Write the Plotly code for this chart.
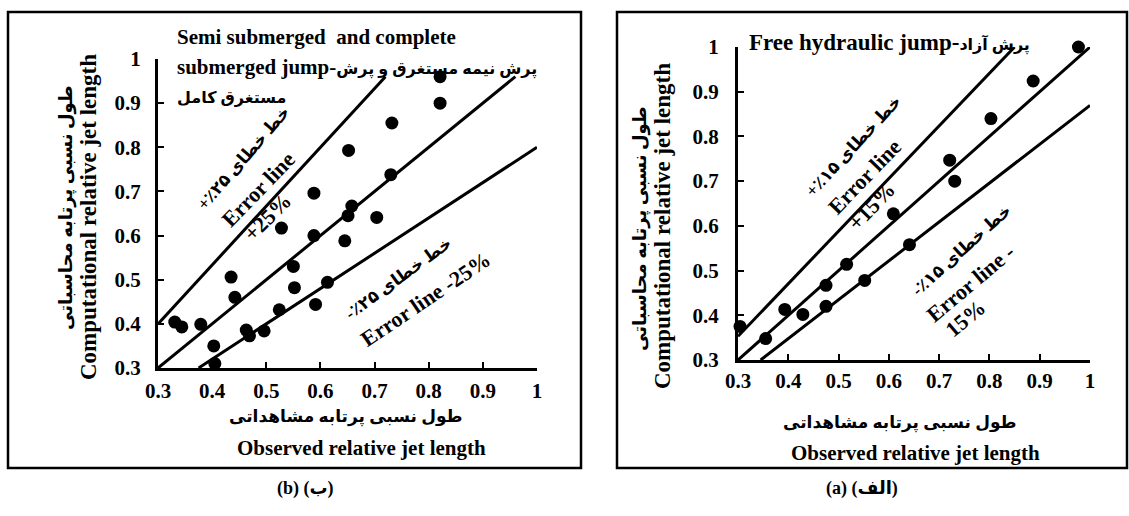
import plotly.graph_objects as go

W, H = 1129, 516

# ---------------- data ----------------
# (b) semi submerged and complete submerged jump
sub_obs = [0.331, 0.344, 0.379, 0.403, 0.405, 0.435, 0.442, 0.463, 0.469, 0.496,
           0.524, 0.528, 0.550, 0.552, 0.588, 0.588, 0.591, 0.613, 0.645, 0.651,
           0.652, 0.658, 0.704, 0.730, 0.732, 0.821, 0.821]
sub_calc = [0.404, 0.393, 0.399, 0.350, 0.310, 0.506, 0.460, 0.386, 0.373, 0.384,
            0.432, 0.617, 0.530, 0.482, 0.600, 0.696, 0.444, 0.494, 0.588, 0.645,
            0.793, 0.667, 0.641, 0.738, 0.855, 0.960, 0.900]

# (a) free hydraulic jump
free_obs = [0.304, 0.355, 0.393, 0.429, 0.475, 0.475, 0.516, 0.552, 0.609, 0.641,
            0.731, 0.721, 0.803, 0.887, 0.977]
free_calc = [0.375, 0.348, 0.413, 0.402, 0.467, 0.420, 0.514, 0.478, 0.627, 0.558,
             0.700, 0.747, 0.840, 0.924, 1.000]

# error lines: ratio (calc = obs * ratio) and x extent
sub_ratios = [1 / 0.75, 1.0, 1 / 1.25]
sub_x_ext = [[0.30, 0.72], [0.30, 0.96], [0.375, 1.0]]
free_ratios = [1 / 0.85, 1.0, 1 / 1.15]
free_x_ext = [[0.30, 0.85], [0.30, 1.0], [0.345, 1.0]]

tick_vals = [0.3, 0.4, 0.5, 0.6, 0.7, 0.8, 0.9, 1.0]
tick_text = ["0.3", "0.4", "0.5", "0.6", "0.7", "0.8", "0.9", "1"]

FONT = "Liberation Serif, Times New Roman, DejaVu Sans, serif"
RLM = "\u200f"


def px(x):
    return x / W


def py(y):
    return 1 - y / H


fig = go.Figure()

# error lines
for r, ext in zip(sub_ratios, sub_x_ext):
    fig.add_trace(go.Scatter(x=ext, y=[v * r for v in ext], mode="lines",
                             line=dict(color="black", width=3),
                             xaxis="x", yaxis="y", showlegend=False, hoverinfo="skip"))
for r, ext in zip(free_ratios, free_x_ext):
    fig.add_trace(go.Scatter(x=ext, y=[v * r for v in ext], mode="lines",
                             line=dict(color="black", width=3),
                             xaxis="x2", yaxis="y2", showlegend=False, hoverinfo="skip"))

fig.add_trace(go.Scatter(x=sub_obs, y=sub_calc, mode="markers",
                         marker=dict(color="black", size=13),
                         xaxis="x", yaxis="y", showlegend=False, cliponaxis=False))
fig.add_trace(go.Scatter(x=free_obs, y=free_calc, mode="markers",
                         marker=dict(color="black", size=13),
                         xaxis="x2", yaxis="y2", showlegend=False, cliponaxis=False))

axis_common = dict(range=[0.3, 1.0], tickvals=tick_vals, ticktext=tick_text,
                   showline=True, linecolor="black", linewidth=3,
                   ticks="inside", ticklen=6, tickwidth=2, tickcolor="black",
                   showgrid=False, zeroline=False, automargin=False,
                   tickfont=dict(family=FONT, size=21, color="black", weight="bold"))

fig.update_layout(
    width=W, height=H, autosize=False,
    margin=dict(l=0, r=0, t=0, b=0, pad=0),
    paper_bgcolor="white", plot_bgcolor="white",
    xaxis=dict(domain=[px(158), px(537)], anchor="y", ticklabelstandoff=2, **axis_common),
    yaxis=dict(domain=[py(368), py(59)], anchor="x", ticklabelstandoff=10, **axis_common),
    xaxis2=dict(domain=[px(738), px(1090)], anchor="y2", ticklabelstandoff=0, **axis_common),
    yaxis2=dict(domain=[py(360), py(47)], anchor="x2", ticklabelstandoff=12, **axis_common),
)

# panel borders
shapes = [
    dict(type="rect", xref="paper", yref="paper", x0=px(8), x1=px(581), y0=py(468), y1=py(12),
         line=dict(color="black", width=2.5)),
    dict(type="rect", xref="paper", yref="paper", x0=px(617), x1=px(1127), y0=py(468), y1=py(12),
         line=dict(color="black", width=2.5)),
]
fig.update_layout(shapes=shapes)

ann = []


def add(text, x, y, size, angle=0, xanchor="center"):
    ann.append(dict(text="<b>" + text + "</b>", x=px(x), y=py(y), xref="paper", yref="paper",
                    showarrow=False, textangle=angle, xanchor=xanchor, yanchor="middle",
                    font=dict(family=FONT, size=size, color="black")))


def fa(text, size):
    return '<span style="font-size:%dpx">%s</span>' % (size, text)


# left panel titles
add("Semi submerged  and complete", 175, 37, 21, xanchor="left")
add("submerged jump-" + fa("پرش نیمه مستغرق و پرش", 16), 175, 67, 21, xanchor="left")
add("مستغرق کامل", 175, 98, 16, xanchor="left")
# left panel error-line labels
add("خط خطای ۲۵٪+" + RLM, 243, 158, 17, angle=-49)
add("Error line", 258, 189, 22, angle=-46)
add("+25%", 267, 217, 22, angle=-45)
add("خط خطای ۲۵٪-" + RLM, 398, 278, 17, angle=-36)
add("Error line -25%", 425, 299, 22, angle=-34)
# left axis titles
add("طول نسبی پرتابه محاسباتی", 66, 208, 18, angle=-90)
add("Computational relative jet length", 88, 217, 23, angle=-90)
add("طول نسبی پرتابه مشاهداتی", 346, 417, 17)
add("Observed relative jet length", 361, 448, 21)

# right panel titles
add("Free hydraulic jump-" + fa("پرش آزاد", 16), 747, 42, 23, xanchor="left")
add("خط خطای ۱۵٪+" + RLM, 853, 146, 17, angle=-47)
add("Error line", 865, 177, 22, angle=-46)
add("+15%", 871, 206, 22, angle=-46)
add("خط خطای ۱۵٪-" + RLM, 961, 250, 17, angle=-42)
add("Error line -", 970, 283, 22, angle=-40)
add("15%", 965, 318, 22, angle=-40)
add("طول نسبی پرتابه محاسباتی", 640, 229, 18, angle=-90)
add("Computational relative jet length", 662, 226, 23, angle=-90)
add("طول نسبی پرتابه مشاهداتی", 900, 423, 17)
add("Observed relative jet length", 915, 453, 21)

# captions
add("(b) (ب)", 305, 488, 18)
add("(a) (الف)", 862, 488, 18)

fig.update_layout(annotations=ann)

fig.write_html("out.html", config={"displayModeBar": False},
               post_script="document.body.style.margin='0px';document.body.style.overflow='hidden';")
